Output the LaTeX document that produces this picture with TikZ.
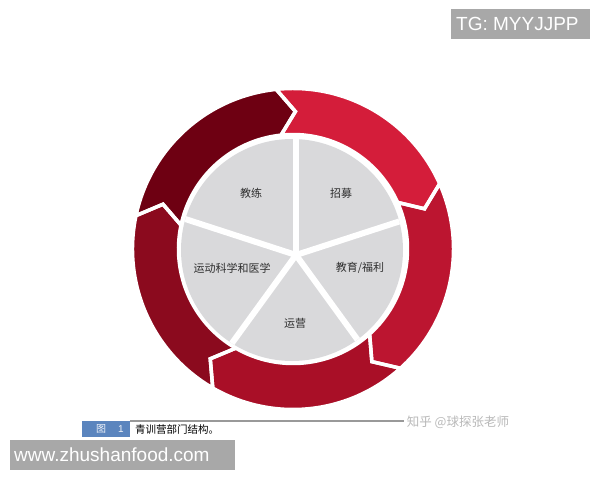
\documentclass[tikz,border=0pt]{standalone}
\usepackage{fontspec}
\setmainfont{Liberation Sans}
\newfontfamily\cjk{Noto Sans CJK SC}
\definecolor{segA}{HTML}{6E0012}
\definecolor{segB}{HTML}{D41D3A}
\definecolor{segC}{HTML}{BC1530}
\definecolor{segD}{HTML}{A90F27}
\definecolor{segE}{HTML}{8B0A1E}
\definecolor{piegray}{HTML}{D9D9DB}
\definecolor{boxgray}{HTML}{A8A8A8}
\definecolor{capblue}{HTML}{5B85BE}
\definecolor{labeltext}{HTML}{2E2E2E}
\tikzset{
  pielabel/.style={font=\cjk\fontsize{11}{13}\selectfont, text=labeltext, inner sep=0pt},
  tagbox/.style={fill=boxgray, draw=none},
  tagtext/.style={font=\fontsize{19}{22}\selectfont, text=white, inner sep=0pt, anchor=west},
  spoke/.style={white, line width=6pt},
}
\begin{document}
\begin{tikzpicture}[x=1pt,y=1pt]
\useasboundingbox (0,0) rectangle (600,480);
\fill[white] (0,0) rectangle (600,480);

% ring of arrows
\begin{scope}[shift={(293,231)}]
\foreach \s/\e/\c in {168/96/segA, 96/24/segB, 24/-48/segC, -48/-120/segD, -120/-192/segE}{
  \fill[\c] (\s:160.5pt) arc[start angle=\s, end angle=\e, radius=160.5pt]
    -- ({\e-7}:137.5pt) -- (\e:114.5pt)
    arc[start angle=\e, end angle=\s, radius=114.5pt]
    -- ({\s-7}:137.5pt) -- cycle;
}
\foreach \s/\e in {168/96, 96/24, 24/-48, -48/-120, -120/-192}{
  \draw[white, line width=3.5pt, line join=miter] (\s:160.5pt) arc[start angle=\s, end angle=\e, radius=160.5pt]
    -- ({\e-7}:137.5pt) -- (\e:114.5pt)
    arc[start angle=\e, end angle=\s, radius=114.5pt]
    -- ({\s-7}:137.5pt) -- cycle;
}
\end{scope}

% pie
\fill[piegray] (292,230) circle[radius=111pt];
\coordinate (hub) at (296,225);
\begin{scope}
\clip (292,230) circle[radius=111pt];
\foreach \a in {90,18,-54,-126,162}{
  \draw[spoke] (hub) -- ++(\a:140pt);
}
\end{scope}

\node[pielabel] (coach) at (251,287) {教练};
\node[pielabel] (recruit) at (341,287) {招募};
\node[pielabel] (edu) at (360,212) {教育/福利};
\node[pielabel] (ops) at (295,157) {运营};
\node[pielabel] (sci) at (232,212) {运动科学和医学};

% caption
\fill[capblue] (82,43) rectangle (130,59);
\node[font=\cjk\fontsize{10}{12}\selectfont, text=white!90!capblue, inner sep=0pt] (fig) at (101,51) {图};
\node[font=\fontsize{10}{12}\selectfont, text=white!90!capblue, inner sep=0pt] (fignum) at (121,51) {1};
\node[font=\cjk\fontsize{10.5}{12}\selectfont, text=black, inner sep=0pt, anchor=west] (cap) at (135,50) {青训营部门结构。};
\draw[gray!80, line width=1.2pt] (130,59) -- (404,59);
\node[font=\cjk\fontsize{12.5}{14}\selectfont, text=gray!55, inner sep=0pt] (wm) at (458,58) {知乎 @球探张老师};

% tag boxes
\fill[tagbox] (451,441) rectangle (590,471);
\node[tagtext] (tg) at (456,456) {TG: MYYJJPP};
\fill[tagbox] (10,10) rectangle (235,40);
\node[tagtext] (url) at (14,25) {www.zhushanfood.com};
\end{tikzpicture}
\end{document}
